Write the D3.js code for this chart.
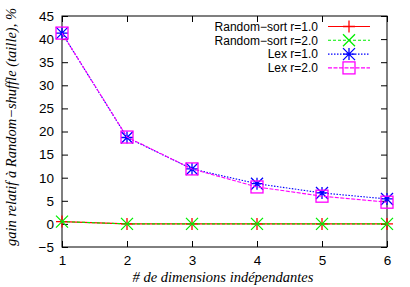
<!DOCTYPE html>
<html><head><meta charset="utf-8">
<script src="https://d3js.org/d3.v7.min.js"></script>
<style>body{margin:0;background:#fff}svg{display:block}</style>
</head><body>
<script>
const dims = [1, 2, 3, 4, 5, 6];
const randomSortR1 = [0.5, 0.0, 0.0, 0.0, 0.0, 0.0];
const randomSortR2 = [0.5, 0.0, 0.0, 0.0, 0.0, 0.0];
const lexR1 = [41.3, 18.7, 11.9, 8.7, 6.7, 5.4];
const lexR2 = [41.3, 18.8, 11.9, 8.0, 6.0, 4.7];
const yTicks = [-5, 0, 5, 10, 15, 20, 25, 30, 35, 40, 45];
const seriesNames = ["Random\u2212sort r=1.0", "Random\u2212sort r=2.0", "Lex r=1.0", "Lex r=2.0"];

const W = 410, H = 287;
const m = {left: 62, right: 23, top: 16, bottom: 40};
const svg = d3.select("body").append("svg").attr("width", W).attr("height", H);
const x = d3.scaleLinear().domain([1, 6]).range([m.left, W - m.right]);
const y = d3.scaleLinear().domain([-5, 45]).range([H - m.bottom, m.top]);
const font = "'Liberation Sans', Arial, sans-serif";
const fs = 13.5;

const series = [
  {name: seriesNames[0], vals: randomSortR1, color: "#ff0000", dash: null, marker: "plus"},
  {name: seriesNames[1], vals: randomSortR2, color: "#00ee00", dash: "3,2", marker: "cross"},
  {name: seriesNames[2], vals: lexR1, color: "#0000ff", dash: "1.5,1.5", marker: "star"},
  {name: seriesNames[3], vals: lexR2, color: "#ff00ff", dash: "4,1.5", marker: "square"}
];

// axes with inward ticks
const tl = 6;
const axB = svg.append("g").attr("transform", `translate(0,${H - m.bottom})`)
  .call(d3.axisBottom(x).tickValues(dims).tickFormat(d3.format("d")).tickSizeInner(-tl).tickSizeOuter(0).tickPadding(8));
const axT = svg.append("g").attr("transform", `translate(0,${m.top})`)
  .call(d3.axisTop(x).tickValues(dims).tickFormat("").tickSizeInner(-tl).tickSizeOuter(0));
const axL = svg.append("g").attr("transform", `translate(${m.left},0)`)
  .call(d3.axisLeft(y).tickValues(yTicks).tickFormat(d => d < 0 ? "\u2212" + Math.abs(d) : d).tickSizeInner(-tl).tickSizeOuter(0).tickPadding(8));
const axR = svg.append("g").attr("transform", `translate(${W - m.right},0)`)
  .call(d3.axisRight(y).tickValues(yTicks).tickFormat("").tickSizeInner(-tl).tickSizeOuter(0));
[axB, axT, axL, axR].forEach(a => {
  a.select(".domain").remove();
  a.selectAll("text").attr("font-family", font).attr("font-size", fs).attr("fill", "#000");
  a.selectAll("line").attr("stroke", "#000");
});
svg.append("rect").attr("x", m.left).attr("y", m.top).attr("width", W - m.left - m.right)
  .attr("height", H - m.top - m.bottom).attr("fill", "none").attr("stroke", "#000").attr("stroke-width", 1);

function drawMarker(g, type, cx, cy, color) {
  const s = 6;
  if (type === "plus") {
    g.append("path").attr("d", `M${cx - s},${cy}H${cx + s}M${cx},${cy - s}V${cy + s}`).attr("stroke", color).attr("stroke-width", 1.3).attr("fill", "none");
  } else if (type === "cross") {
    g.append("path").attr("d", `M${cx - s},${cy - s}L${cx + s},${cy + s}M${cx - s},${cy + s}L${cx + s},${cy - s}`).attr("stroke", color).attr("stroke-width", 1.3).attr("fill", "none");
  } else if (type === "star") {
    g.append("path").attr("d", `M${cx - s},${cy}H${cx + s}M${cx},${cy - s}V${cy + s}M${cx - s},${cy - s}L${cx + s},${cy + s}M${cx - s},${cy + s}L${cx + s},${cy - s}`).attr("stroke", color).attr("stroke-width", 1.3).attr("fill", "none");
  } else {
    g.append("rect").attr("x", cx - s).attr("y", cy - s).attr("width", 2 * s).attr("height", 2 * s).attr("stroke", color).attr("stroke-width", 1.3).attr("fill", "none");
  }
}

const line = d3.line().x((d, i) => x(dims[i])).y(d => y(d));
series.forEach(s => {
  const g = svg.append("g");
  g.append("path").attr("d", line(s.vals)).attr("fill", "none").attr("stroke", s.color)
    .attr("stroke-width", 1.1).attr("stroke-dasharray", s.dash);
  s.vals.forEach((v, i) => drawMarker(g, s.marker, x(dims[i]), y(v), s.color));
});

// legend
const lg = svg.append("g");
series.forEach((s, i) => {
  const ly = 26.5 + i * 13.8;
  lg.append("text").attr("x", 318).attr("y", ly).attr("dy", "0.35em").attr("text-anchor", "end")
    .attr("font-family", font).attr("font-size", 12).text(s.name);
  lg.append("line").attr("x1", 328).attr("x2", 370).attr("y1", ly).attr("y2", ly)
    .attr("stroke", s.color).attr("stroke-width", 1.1).attr("stroke-dasharray", s.dash);
  drawMarker(lg, s.marker, 349, ly, s.color);
});

// axis titles
const serif = "'Liberation Serif', 'Times New Roman', serif";
svg.append("text").attr("x", 223).attr("y", 282).attr("text-anchor", "middle")
  .attr("font-family", serif).attr("font-style", "italic").attr("font-size", 14.5)
  .text("# de dimensions indépendantes");
svg.append("text").attr("transform", `translate(16,127) rotate(-90)`)
  .attr("text-anchor", "middle").attr("font-family", serif).attr("font-style", "italic")
  .attr("font-size", 14.5).text("gain relatif à Random\u2212shuffle (taille), %");
</script>
</body></html>
